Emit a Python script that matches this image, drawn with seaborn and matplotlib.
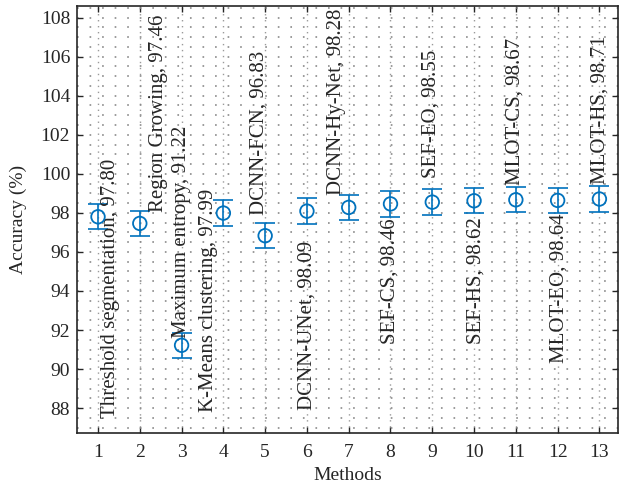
import numpy as np
import pandas as pd
import seaborn as sns
import matplotlib
import matplotlib.pyplot as plt
from matplotlib.ticker import MultipleLocator
matplotlib.use('Agg')

methods = ["Threshold segmentation", "Region Growing", "Maximum entropy",
           "K-Means clustering", "DCNN-FCN", "DCNN-UNet", "DCNN-Hy-Net",
           "SEF-CS", "SEF-EO", "SEF-HS", "MLOT-CS", "MLOT-EO", "MLOT-HS"]
method_idx = list(range(1, 14))
accuracy = [97.80, 97.46, 91.22, 97.99, 96.83, 98.09, 98.28,
            98.46, 98.55, 98.62, 98.67, 98.64, 98.71]
error = [0.65] * 13

# where each rotated label sits (x, bottom of text in data units)
label_x = [1.31, 2.45, 3.0, 3.64, 4.86, 6.0, 6.71, 8.0, 8.98, 10.04, 10.98, 12.04, 13.02]
label_y = [87.5, 98.04, 91.6, 87.8, 97.9, 87.9, 98.9, 91.3, 99.8, 91.3, 99.45, 90.3, 99.5]

data = pd.DataFrame({"Method": method_idx, "Accuracy": accuracy, "Err": error})

sns.set_style("ticks")
plt.rcParams['font.family'] = ['Liberation Serif', 'DejaVu Serif']

blue = '#0072BD'
fig = plt.figure(figsize=(6.27, 4.9), dpi=100)
ax = fig.add_axes([0.123, 0.116, 0.863, 0.872])

ax.errorbar(data["Method"], data["Accuracy"], yerr=data["Err"], fmt='none',
            ecolor=blue, elinewidth=1.2, capsize=7, capthick=1.2, zorder=3)
sns.scatterplot(data=data, x="Method", y="Accuracy", ax=ax, marker='o',
                s=95, facecolors='none', edgecolor=blue, linewidth=1.3, zorder=4)

for i in range(len(methods)):
    ax.text(label_x[i], label_y[i], f"{methods[i]}, {accuracy[i]:.2f}",
            rotation=90, ha='center', va='bottom', fontsize=15, color='#262626')

ax.set_xlim(0.5, 13.45)
ax.set_ylim(86.72, 108.6)
ax.set_xticks(method_idx)
ax.set_yticks(np.arange(88, 109, 2))
ax.xaxis.set_minor_locator(MultipleLocator(0.25))
ax.yaxis.set_minor_locator(MultipleLocator(0.5))

# dotted lattice like the original: sparse dotted rows, dotted columns at ticks
ax.yaxis.grid(True, which='both', linestyle=(0, (1, 6.53)), color='#8a8a8a', linewidth=1.2)
ax.xaxis.grid(True, which='major', linestyle=(0, (1, 3.3)), color='#9a9a9a', linewidth=1)

ax.tick_params(which='major', direction='in', length=4, width=1, top=True, right=True,
               labelsize=14, colors='#262626')
ax.tick_params(axis='x', pad=8)
ax.tick_params(axis='y', pad=5)
ax.tick_params(which='minor', length=0)
for s in ax.spines.values():
    s.set_linewidth(1.2)
    s.set_color('#262626')

ax.set_xlabel("Methods", fontsize=14, color='#262626', labelpad=4)
ax.set_ylabel("Accuracy (%)", fontsize=14, color='#262626', labelpad=10)

fig.savefig("out.png", dpi=100)
